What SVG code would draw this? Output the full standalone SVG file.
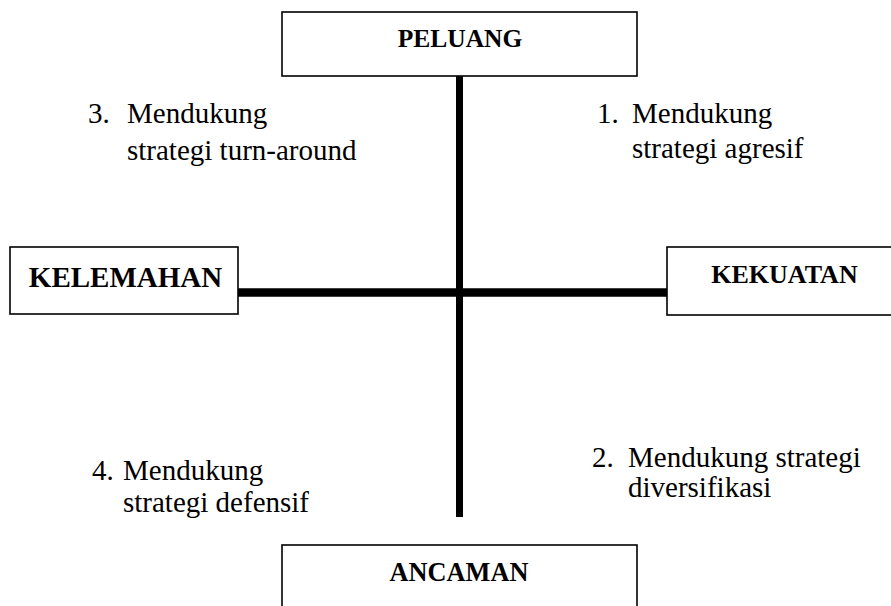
<svg xmlns="http://www.w3.org/2000/svg" width="891" height="606" viewBox="0 0 891 606">
<style>
.box{fill:#fff;stroke:#000;stroke-width:1.6}
.hd{font-family:'Liberation Serif',serif;font-weight:bold;fill:#000;text-anchor:middle}
.tx{font-family:'Liberation Serif',serif;font-size:29px;fill:#000}
.ax{stroke:#000;fill:none}
</style>
<rect width="891" height="606" fill="#fff"/>
<g id="connectors">
<line class="ax" x1="459.5" y1="76" x2="459.5" y2="517" stroke-width="7"/>
<line class="ax" x1="238" y1="292.5" x2="667" y2="292.5" stroke-width="8.5"/>
</g>
<g id="peluang">
<rect class="box" x="282" y="12" width="355" height="64"/>
<text class="hd" x="460" y="47" font-size="25.5">PELUANG</text>
</g>
<g id="kelemahan">
<rect class="box" x="10" y="247" width="228" height="67"/>
<text class="hd" x="125.5" y="287" font-size="29">KELEMAHAN</text>
</g>
<g id="kekuatan">
<rect class="box" x="667" y="247" width="240" height="68"/>
<text class="hd" x="784.5" y="283" font-size="26">KEKUATAN</text>
</g>
<g id="ancaman">
<rect class="box" x="282" y="545" width="355" height="70"/>
<text class="hd" x="459" y="581" font-size="26.3">ANCAMAN</text>
</g>
<g id="q3">
<text class="tx" x="88" y="123">3.</text>
<text class="tx" x="127" y="123">Mendukung</text>
<text class="tx" x="127" y="160">strategi turn-around</text>
</g>
<g id="q1">
<text class="tx" x="597" y="123">1.</text>
<text class="tx" x="632" y="123">Mendukung</text>
<text class="tx" x="632" y="158">strategi agresif</text>
</g>
<g id="q4">
<text class="tx" x="92" y="480">4.</text>
<text class="tx" x="123" y="480">Mendukung</text>
<text class="tx" x="123" y="512">strategi defensif</text>
</g>
<g id="q2">
<text class="tx" x="592" y="467">2.</text>
<text class="tx" x="628" y="467">Mendukung strategi</text>
<text class="tx" x="628" y="497">diversifikasi</text>
</g>
</svg>
